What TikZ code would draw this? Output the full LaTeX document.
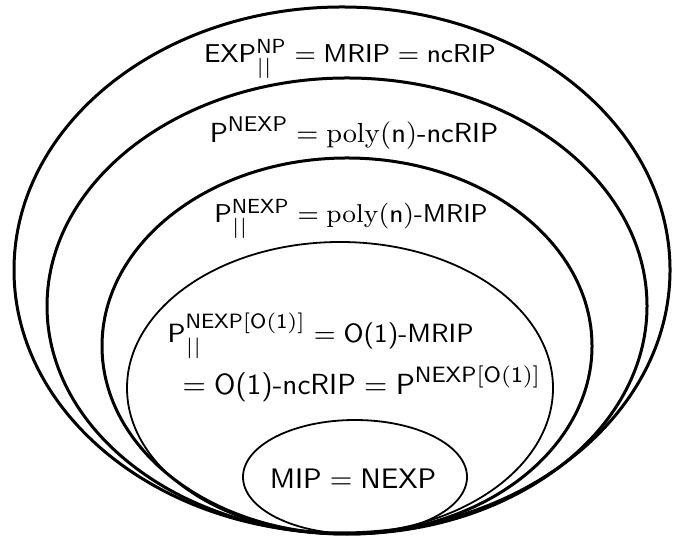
\RequirePackage{fix-cm}
\documentclass[tikz,border=0pt]{standalone}
\usepackage{amsmath}
\DeclareMathSizes{8.6}{8.6}{6.8}{5}
\DeclareMathSizes{8.8}{8.8}{6.9}{5}
\DeclareMathSizes{9.2}{9.2}{7.1}{5}
\DeclareMathSizes{9.4}{9.4}{7.2}{5}
\DeclareMathSizes{9.7}{9.7}{7.4}{5}
\begin{document}
\begin{tikzpicture}[x=0.33333pt,y=0.33333pt,
  thickring/.style={draw=black,line width=1pt},
  thinring/.style={draw=black,line width=0.6pt},
  labbase/.style={inner sep=0pt},
  labA/.style={labbase,font=\fontsize{8.6}{10.5}\selectfont},
  labB/.style={labbase,font=\fontsize{8.8}{10.5}\selectfont},
  labC/.style={labbase,font=\fontsize{9.2}{11}\selectfont},
  labD/.style={labbase,font=\fontsize{9.4}{11.5}\selectfont},
  labE/.style={labbase,font=\fontsize{9.7}{11.5}\selectfont}]
\useasboundingbox (0,0) rectangle (674,539);
\draw[thickring] (342,269) ellipse [x radius=328,y radius=263];
\draw[thickring] (347,233) ellipse [x radius=300,y radius=228];
\draw[thickring] (347,193) ellipse [x radius=245,y radius=188];
\draw[thinring] (340,151) ellipse [x radius=213,y radius=146];
\draw[thinring] (355,62) ellipse [x radius=112,y radius=57];
\node[labA,anchor=base] (t1) at (350,476) {$\mathsf{EXP}^{\mathsf{NP}}_{\mathsf{||}} = \mathsf{MRIP} = \mathsf{ncRIP}$};
\node[labC,anchor=base] (t2) at (354,396) {$\mathsf{P}^{\mathsf{NEXP}} = \mathrm{poly}(\mathsf{n})\textsf{-ncRIP}$};
\node[labA,anchor=base] (t3) at (351,316) {$\mathsf{P}^{\mathsf{NEXP}}_{\mathsf{||}} = \mathrm{poly}(\mathsf{n})\textsf{-MRIP}$};
\node[labB,anchor=base west] (t4) at (167,196) {$\mathsf{P}^{\mathsf{NEXP[O(1)]}}_{\mathsf{||}} = \textsf{O(1)-MRIP}$};
\node[labE,anchor=base east] (t5) at (542,144) {$= \textsf{O(1)-ncRIP} = \mathsf{P}^{\mathsf{NEXP[O(1)]}}$};
\node[labD,anchor=base] (t6) at (353,51) {$\mathsf{MIP} = \mathsf{NEXP}$};
\end{tikzpicture}
\end{document}
